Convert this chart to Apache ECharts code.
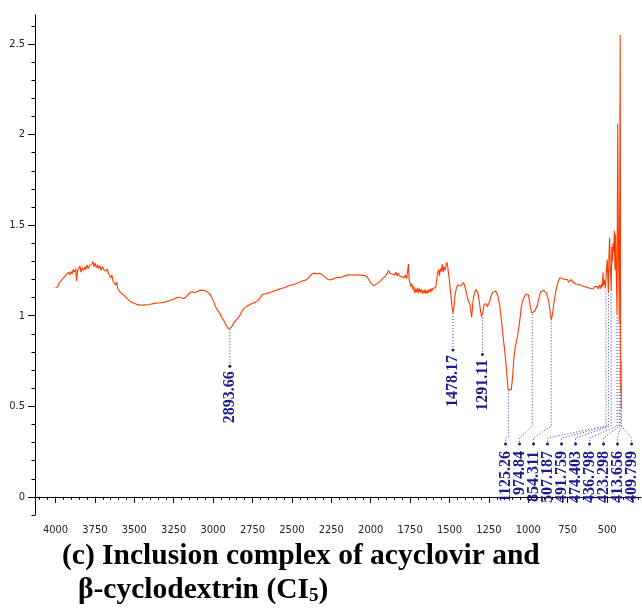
<!DOCTYPE html>
<html>
<head>
<meta charset="utf-8">
<script src="https://cdn.jsdelivr.net/npm/echarts@6/dist/echarts.min.js"></script>
<style>
  html, body { margin: 0; padding: 0; background: #fff; }
  #irChart { width: 642px; height: 609px; }
</style>
</head>
<body>
<div id="irChart"></div>
<script>
// IR spectrum: [wavenumber cm-1, value]
const spectrum = [
  [4000, 1.155], [3992, 1.165], [3985, 1.16], [3978, 1.18], [3970, 1.175], [3962, 1.195],
  [3955, 1.19], [3948, 1.21], [3940, 1.205], [3932, 1.225], [3925, 1.215], [3918, 1.24],
  [3910, 1.225], [3902, 1.245], [3895, 1.23], [3888, 1.255], [3880, 1.24], [3872, 1.26],
  [3866, 1.19], [3860, 1.25], [3852, 1.245], [3845, 1.275], [3838, 1.24], [3830, 1.265],
  [3822, 1.25], [3815, 1.27], [3808, 1.255], [3800, 1.28], [3792, 1.26], [3785, 1.275],
  [3778, 1.265], [3770, 1.285], [3762, 1.3], [3755, 1.27], [3748, 1.29], [3740, 1.265],
  [3732, 1.28], [3725, 1.26], [3718, 1.275], [3710, 1.25], [3702, 1.27], [3695, 1.255],
  [3688, 1.265], [3680, 1.245], [3672, 1.26], [3665, 1.235], [3658, 1.24], [3650, 1.21],
  [3642, 1.225], [3635, 1.19], [3628, 1.2], [3620, 1.17], [3612, 1.185], [3605, 1.15],
  [3598, 1.16], [3590, 1.13], [3582, 1.14], [3574, 1.12], [3566, 1.125], [3558, 1.105],
  [3550, 1.11], [3540, 1.09], [3530, 1.085], [3520, 1.075], [3505, 1.07], [3490, 1.065],
  [3470, 1.06], [3450, 1.058], [3430, 1.06], [3410, 1.062], [3390, 1.065], [3370, 1.068],
  [3350, 1.07], [3330, 1.072], [3310, 1.075], [3290, 1.08], [3270, 1.085], [3250, 1.092],
  [3230, 1.1], [3215, 1.102], [3200, 1.098], [3185, 1.095], [3170, 1.105], [3155, 1.12],
  [3140, 1.132], [3128, 1.135], [3115, 1.128], [3105, 1.125], [3095, 1.135], [3080, 1.14],
  [3065, 1.14], [3050, 1.138], [3035, 1.13], [3020, 1.12], [3008, 1.1], [2995, 1.075],
  [2985, 1.05], [2975, 1.035], [2965, 1.025], [2955, 1.01], [2945, 0.99], [2930, 0.97],
  [2915, 0.945], [2903, 0.928], [2894, 0.925], [2885, 0.935], [2872, 0.955], [2860, 0.97],
  [2848, 0.98], [2835, 0.995], [2820, 1.02], [2805, 1.04], [2790, 1.05], [2775, 1.058],
  [2760, 1.065], [2745, 1.07], [2730, 1.075], [2715, 1.085], [2700, 1.1], [2688, 1.115],
  [2675, 1.12], [2660, 1.122], [2640, 1.128], [2620, 1.135], [2600, 1.14], [2580, 1.148],
  [2560, 1.152], [2540, 1.158], [2520, 1.165], [2500, 1.17], [2480, 1.175], [2460, 1.182],
  [2440, 1.19], [2420, 1.195], [2405, 1.2], [2390, 1.215], [2375, 1.228], [2362, 1.235],
  [2350, 1.232], [2338, 1.23], [2325, 1.235], [2312, 1.228], [2300, 1.218], [2285, 1.21],
  [2270, 1.2], [2255, 1.198], [2240, 1.202], [2225, 1.208], [2210, 1.212], [2195, 1.21],
  [2180, 1.214], [2165, 1.22], [2150, 1.224], [2135, 1.226], [2120, 1.225], [2100, 1.224],
  [2080, 1.226], [2060, 1.224], [2040, 1.222], [2025, 1.215], [2012, 1.2], [2000, 1.18],
  [1990, 1.17], [1980, 1.166], [1968, 1.17], [1955, 1.18], [1942, 1.19], [1930, 1.2],
  [1918, 1.21], [1905, 1.22], [1895, 1.23], [1886, 1.25], [1878, 1.235], [1870, 1.245],
  [1862, 1.23], [1855, 1.24], [1848, 1.225], [1840, 1.24], [1832, 1.22], [1825, 1.235],
  [1818, 1.22], [1810, 1.23], [1802, 1.215], [1795, 1.225], [1788, 1.21], [1780, 1.225],
  [1772, 1.205], [1765, 1.215], [1760, 1.285], [1756, 1.2], [1750, 1.18], [1744, 1.16],
  [1738, 1.175], [1732, 1.145], [1726, 1.16], [1720, 1.125], [1714, 1.15], [1708, 1.13],
  [1702, 1.155], [1696, 1.125], [1690, 1.15], [1684, 1.13], [1678, 1.145], [1672, 1.12],
  [1666, 1.14], [1660, 1.125], [1654, 1.145], [1648, 1.12], [1642, 1.14], [1636, 1.125],
  [1630, 1.145], [1624, 1.13], [1618, 1.15], [1612, 1.135], [1606, 1.15], [1600, 1.14],
  [1594, 1.16], [1588, 1.155], [1582, 1.19], [1576, 1.235], [1570, 1.255], [1564, 1.22],
  [1558, 1.26], [1552, 1.245], [1546, 1.285], [1540, 1.24], [1534, 1.27], [1528, 1.25],
  [1522, 1.28], [1516, 1.295], [1510, 1.26], [1504, 1.22], [1498, 1.17], [1490, 1.1],
  [1484, 1.05], [1478, 1.015], [1472, 1.05], [1465, 1.11], [1457, 1.15], [1448, 1.17],
  [1440, 1.175], [1430, 1.165], [1420, 1.175], [1411, 1.183], [1402, 1.16], [1394, 1.13],
  [1386, 1.1], [1378, 1.075], [1370, 1.06], [1364, 1.02], [1359, 0.99], [1354, 1.05],
  [1348, 1.1], [1340, 1.13], [1332, 1.145], [1326, 1.148], [1318, 1.12], [1310, 1.07],
  [1302, 1.02], [1296, 0.995], [1291, 0.99], [1286, 1.03], [1280, 1.065], [1274, 1.075],
  [1267, 1.065], [1260, 1.05], [1253, 1.055], [1245, 1.08], [1236, 1.11], [1226, 1.13],
  [1216, 1.137], [1206, 1.135], [1198, 1.12], [1190, 1.1], [1182, 1.06], [1174, 1.0],
  [1166, 0.94], [1158, 0.87], [1150, 0.81], [1142, 0.74], [1135, 0.66], [1128, 0.592],
  [1118, 0.588], [1108, 0.592], [1100, 0.66], [1092, 0.76], [1084, 0.82], [1076, 0.855],
  [1068, 0.89], [1060, 0.935], [1052, 0.99], [1044, 1.05], [1035, 1.085], [1025, 1.105],
  [1015, 1.12], [1008, 1.13], [1000, 1.115], [992, 1.08], [985, 1.04], [979, 1.015],
  [975, 1.008], [968, 1.012], [960, 1.025], [952, 1.04], [944, 1.055], [936, 1.085],
  [928, 1.115], [920, 1.132], [912, 1.137], [902, 1.14], [893, 1.137], [885, 1.125],
  [877, 1.1], [870, 1.075], [864, 1.04], [859, 1.0], [854, 0.98], [848, 1.0],
  [842, 1.04], [835, 1.085], [826, 1.13], [818, 1.165], [810, 1.19], [800, 1.21],
  [792, 1.2], [784, 1.205], [776, 1.195], [768, 1.2], [760, 1.19], [752, 1.2],
  [744, 1.185], [736, 1.195], [726, 1.2], [718, 1.185], [708, 1.19], [698, 1.175],
  [688, 1.18], [678, 1.172], [670, 1.175], [660, 1.165], [650, 1.168], [640, 1.16],
  [630, 1.165], [620, 1.155], [612, 1.162], [604, 1.15], [596, 1.158], [588, 1.148],
  [580, 1.16], [572, 1.15], [564, 1.162], [556, 1.148], [548, 1.17], [541, 1.15],
  [535, 1.175], [530, 1.16], [526, 1.24], [522, 1.17], [517, 1.2], [512, 1.15],
  [507, 1.14], [503, 1.26], [499, 1.31], [495, 1.2], [492, 1.13], [488, 1.34],
  [484, 1.43], [480, 1.28], [477, 1.22], [474, 1.14], [470, 1.38], [466, 1.3],
  [462, 1.4], [458, 1.35], [454, 1.47], [450, 1.25], [446, 1.45], [441, 1.2],
  [437, 1.01], [433, 2.06], [430, 1.6], [427, 1.3], [424, 1.1], [423, 0.96],
  [420, 1.69], [417, 2.55], [415, 1.2], [413.6, 0.58], [411, 0.75], [409.8, 0.49],
  [406, 0.5]
];

// picked peaks
const peakWn = [2893.66, 1478.17, 1291.11, 1125.26, 974.84, 854.311, 507.187,
  491.759, 474.403, 436.798, 423.298, 413.656, 409.799];
const peakVal = [0.925, 1.015, 0.99, 0.588, 1.008, 0.98, 1.14, 1.13, 1.14, 1.01, 0.96, 0.58, 0.49];
const peakLabels = ['2893.66', '1478.17', '1291.11', '1125.26', '974.84', '854.311', '507.187',
  '491.759', '474.403', '436.798', '423.298', '413.656', '409.799'];

// axis ticks
const xMajor = [4000, 3750, 3500, 3250, 3000, 2750, 2500, 2250, 2000, 1750, 1500, 1250, 1000, 750, 500];
const xMinor = [];
for (let v = 4100; v >= 300; v -= 50) xMinor.push(v);
const yMajor = [0, 0.5, 1, 1.5, 2, 2.5];
const yMinor = [];
for (let k = -1; k <= 26; k++) yMinor.push(+(k / 10).toFixed(1));

const INK = '#1c1c8a';
const DOTS = '#3c3ca0';
const SERIF = '"Liberation Serif", "Times New Roman", serif';
const tickFont = '"Liberation Sans Narrow", "DejaVu Sans Condensed", sans-serif';

const chart = echarts.init(document.getElementById('irChart'), null, { renderer: 'canvas' });

function renderPeak(params, api) {
  const i = api.value(2);
  const p = api.coord([api.value(0), api.value(1)]);
  const cs = params.coordSys;
  const bottom = cs.y + cs.height;
  let pts, dotX, dotY, textTop;
  if (i < 3) {
    dotX = p[0];
    dotY = p[1] + 37;
    pts = [[p[0], p[1]], [p[0], dotY]];
    textTop = dotY + 5;
  } else {
    const k = i - 3;
    const x0 = api.coord([peakWn[3], 0])[0] - 3;
    dotX = x0 + k * 14;
    dotY = bottom - 71;
    const elbow = k === 0 ? bottom - 79 : bottom - 89;
    pts = [[p[0], p[1]], [p[0], elbow], [dotX, bottom - 77], [dotX, dotY]];
    textTop = bottom - 64;
  }
  return {
    type: 'group',
    children: [
      {
        type: 'polyline',
        shape: { points: pts },
        style: { stroke: DOTS, lineWidth: 1, lineDash: [1, 2], fill: null }
      },
      {
        type: 'circle',
        shape: { cx: dotX, cy: dotY, r: 1.5 },
        style: { fill: INK }
      },
      {
        type: 'text',
        x: dotX,
        y: textTop,
        rotation: Math.PI / 2,
        style: {
          text: peakLabels[i],
          fill: INK,
          fontFamily: SERIF,
          fontWeight: 'bold',
          fontSize: 16,
          align: 'right',
          verticalAlign: 'middle'
        }
      }
    ]
  };
}

const option = {
  animation: false,
  backgroundColor: '#fff',
  grid: { left: 35, right: 1, top: 15, bottom: 94, containLabel: false },
  xAxis: [
    {
      type: 'value',
      inverse: true,
      min: 285,
      max: 4130,
      position: 'bottom',
      axisLine: { lineStyle: { color: '#000', width: 1 } },
      axisTick: { customValues: xMajor, length: 6, lineStyle: { color: '#000' } },
      axisLabel: {
        customValues: xMajor,
        formatter: (v) => String(v),
        margin: 10,
        color: '#222',
        fontSize: 11,
        fontFamily: tickFont
      },
      splitLine: { show: false }
    },
    {
      type: 'value',
      inverse: true,
      min: 285,
      max: 4130,
      position: 'bottom',
      axisLine: { show: false },
      axisTick: { customValues: xMinor, length: 3, lineStyle: { color: '#000' } },
      axisLabel: { show: false },
      splitLine: { show: false }
    }
  ],
  yAxis: [
    {
      type: 'value',
      min: -0.1,
      max: 2.66,
      position: 'left',
      axisLine: { show: true, lineStyle: { color: '#000', width: 1 } },
      axisTick: { show: true, customValues: yMajor, length: 7, lineStyle: { color: '#000' } },
      axisLabel: {
        customValues: yMajor,
        formatter: (v) => String(v),
        margin: 10,
        color: '#222',
        fontSize: 11,
        fontFamily: tickFont
      },
      splitLine: { show: false }
    },
    {
      type: 'value',
      min: -0.1,
      max: 2.66,
      position: 'left',
      axisLine: { show: false },
      axisTick: { show: true, customValues: yMinor, length: 3.5, lineStyle: { color: '#000' } },
      axisLabel: { show: false },
      splitLine: { show: false }
    }
  ],
  series: [
    {
      name: 'IR',
      type: 'line',
      xAxisIndex: 0,
      yAxisIndex: 0,
      showSymbol: false,
      lineStyle: { color: '#ff3a00', width: 1.1 },
      data: spectrum,
      z: 3
    },
    {
      name: 'peaks',
      type: 'custom',
      xAxisIndex: 0,
      yAxisIndex: 0,
      renderItem: renderPeak,
      clip: false,
      data: peakWn.map((w, i) => [w, peakVal[i], i]),
      z: 2
    }
  ],
  graphic: [
    {
      type: 'text',
      left: 62,
      top: 541,
      style: {
        text: '(c) Inclusion complex of acyclovir and',
        fill: '#000',
        fontFamily: SERIF,
        fontWeight: 'bold',
        fontSize: 29.5
      }
    },
    {
      type: 'text',
      left: 78,
      top: 575,
      style: {
        text: '{a|β-cyclodextrin (CI}{s|5}{a|)}',
        fill: '#000',
        rich: {
          a: {
            fontFamily: SERIF,
            fontWeight: 'bold',
            fontSize: 29.5,
            lineHeight: 31,
            verticalAlign: 'top'
          },
          s: {
            fontFamily: SERIF,
            fontWeight: 'bold',
            fontSize: 19,
            lineHeight: 16,
            verticalAlign: 'bottom'
          }
        }
      }
    }
  ]
};

chart.setOption(option);
window.addEventListener('resize', () => chart.resize());
</script>
</body>
</html>
